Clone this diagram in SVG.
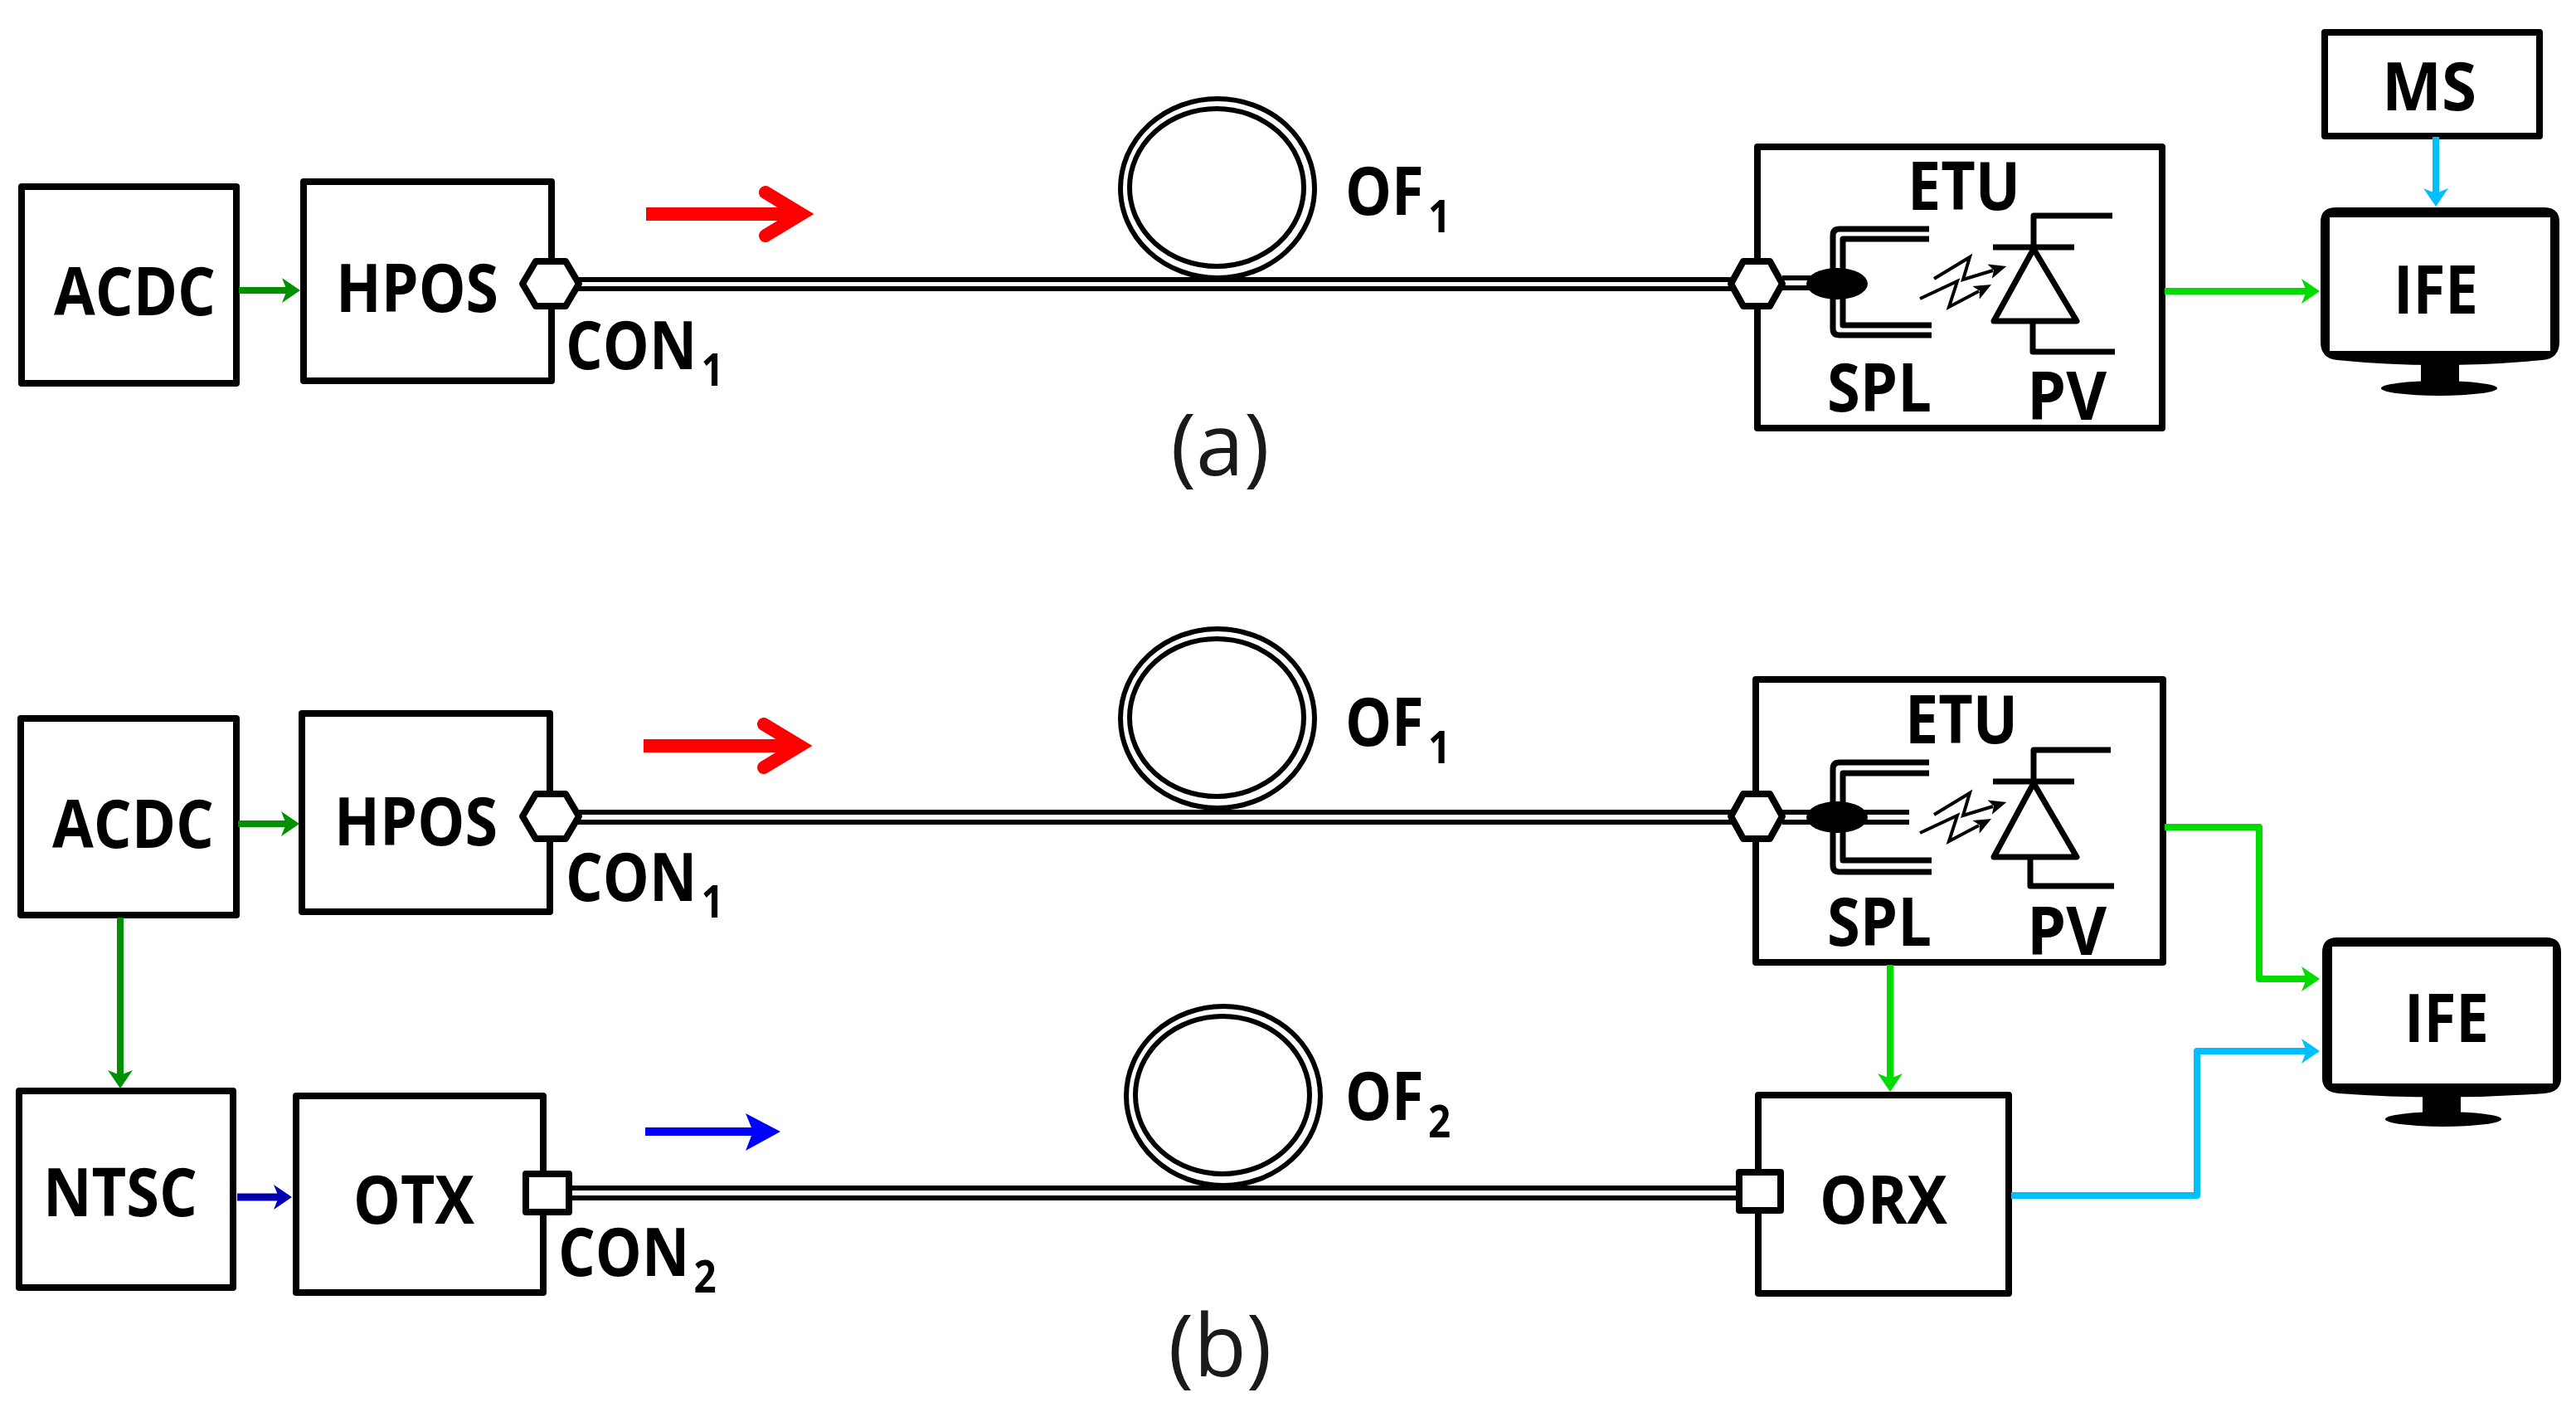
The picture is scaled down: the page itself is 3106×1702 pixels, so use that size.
<svg xmlns="http://www.w3.org/2000/svg" width="3106" height="1702" viewBox="0 0 3106 1702">
<style>
.box{fill:#fff;stroke:#000;stroke-width:8;stroke-linejoin:round}
.t{font-family:"Open Sans","Noto Sans","Liberation Sans",sans-serif;font-weight:700;font-size:80px;fill:#000}
.s{font-size:54px}
.cap{font-family:"Open Sans","Noto Sans","Liberation Sans",sans-serif;font-size:104px;fill:#1a1a1a}
.fib{fill:none;stroke:#000;stroke-width:6}
.ring{fill:none;stroke:#000;stroke-width:6}
.sym{fill:none;stroke:#000;stroke-width:7;stroke-linejoin:round}
.zig{fill:none;stroke:#000;stroke-width:4;marker-end:url(#mk)}
.dg{fill:none;stroke:#009000;stroke-width:8;marker-end:url(#mdg)}
.ng{fill:none;stroke:#00dc00;stroke-width:8;stroke-linejoin:round;marker-end:url(#mng)}
.cy{fill:none;stroke:#00bfff;stroke-width:8;stroke-linejoin:round;marker-end:url(#mcy)}
.nb{fill:none;stroke:#0000b0;stroke-width:9;marker-end:url(#mnb)}
.mon{fill:#000}
</style>
<defs>
<marker id="mdg" markerUnits="userSpaceOnUse" markerWidth="26" markerHeight="34" refX="8" refY="17" orient="auto"><path d="M2,2L24,17L2,32L8,17z" fill="#009000"/></marker>
<marker id="mng" markerUnits="userSpaceOnUse" markerWidth="26" markerHeight="34" refX="8" refY="17" orient="auto"><path d="M2,2L24,17L2,32L8,17z" fill="#00dc00"/></marker>
<marker id="mcy" markerUnits="userSpaceOnUse" markerWidth="26" markerHeight="34" refX="8" refY="17" orient="auto"><path d="M2,2L24,17L2,32L8,17z" fill="#00bfff"/></marker>
<marker id="mnb" markerUnits="userSpaceOnUse" markerWidth="26" markerHeight="34" refX="8" refY="17" orient="auto"><path d="M2,2L24,17L2,32L8,17z" fill="#0000b0"/></marker>
<marker id="mk" markerUnits="userSpaceOnUse" markerWidth="22" markerHeight="20" refX="4" refY="10" orient="auto"><path d="M0,1L21,10L0,19L5,10z" fill="#000"/></marker>
</defs>
<rect width="3106" height="1702" fill="#fff"/>

<g id="acdc-a"><rect class="box" x="26" y="225" width="259" height="237"/><text class="t" x="65" y="380" textLength="195" lengthAdjust="spacingAndGlyphs">ACDC</text></g>
<g id="hpos-a"><rect class="box" x="366" y="219" width="299" height="240"/><text class="t" x="405" y="376" textLength="196" lengthAdjust="spacingAndGlyphs">HPOS</text></g>
<g id="etu-a"><rect class="box" x="2119" y="177" width="488" height="339"/>
<text class="t" x="2300" y="253" textLength="136" lengthAdjust="spacingAndGlyphs">ETU</text>
<text class="t" x="2203" y="496" textLength="126" lengthAdjust="spacingAndGlyphs">SPL</text>
<text class="t" x="2444" y="506" textLength="96" lengthAdjust="spacingAndGlyphs">PV</text>
<path class="fib" d="M2149,335H2190M2149,347H2190"/>
<path class="sym" d="M2326,276H2218Q2210,276 2210,284V396Q2210,404 2218,404H2329M2326,288H2222V392H2329"/>
<ellipse cx="2215" cy="342" rx="37" ry="19" fill="#000"/>
<path class="sym" d="M2547,260H2452V298M2403,298H2501"/><path class="sym" d="M2452,300L2504,387H2404Z"/><path class="sym" d="M2451,387V424H2550"/>
<path class="zig" d="M2332,336L2375,310L2367,337L2403,326"/><path class="zig" d="M2315,360L2360,339L2350,370L2386,351"/>
</g>
<g id="ms"><rect class="box" x="2803" y="39" width="259" height="125"/><text class="t" x="2872" y="133" textLength="114" lengthAdjust="spacingAndGlyphs">MS</text></g>
<g id="ife-a"><path class="mon" fill-rule="evenodd" d="M2816,250H3068Q3086,250 3086,268V412Q3086,432 3066,434Q2937,446 2818,434Q2798,432 2798,412V268Q2798,250 2816,250ZM2809,262V423H3075V262Z"/><rect class="mon" x="2919" y="438" width="46" height="26"/><ellipse class="mon" cx="2941" cy="468" rx="70" ry="9"/><text class="t" x="2886" y="378" textLength="102" lengthAdjust="spacingAndGlyphs">IFE</text></g>
<g id="of1-a"><ellipse class="ring" cx="1468" cy="227" rx="117" ry="108"/><ellipse class="ring" cx="1467" cy="226" rx="105" ry="95"/><text class="t" transform="translate(1622,259) scale(.88,1)">OF<tspan class="s" dx="6" dy="21">1</tspan></text></g>
<g id="con1-label-a"><text class="t" transform="translate(682,445) scale(.88,1)">CON<tspan class="s" dx="6" dy="20">1</tspan></text></g>

<g id="acdc-b"><rect class="box" x="25" y="866" width="260" height="237"/><text class="t" x="63" y="1022" textLength="195" lengthAdjust="spacingAndGlyphs">ACDC</text></g>
<g id="hpos-b"><rect class="box" x="364" y="860" width="299" height="239"/><text class="t" x="403" y="1019" textLength="197" lengthAdjust="spacingAndGlyphs">HPOS</text></g>
<g id="etu-b"><rect class="box" x="2117" y="819" width="491" height="341"/>
<text class="t" x="2297" y="896" textLength="136" lengthAdjust="spacingAndGlyphs">ETU</text>
<text class="t" x="2203" y="1140" textLength="126" lengthAdjust="spacingAndGlyphs">SPL</text>
<text class="t" x="2444" y="1151" textLength="96" lengthAdjust="spacingAndGlyphs">PV</text>
<path class="fib" d="M2149,979H2302M2149,991H2302"/>
<path class="sym" d="M2326,919H2218Q2210,919 2210,927V1043Q2210,1051 2218,1051H2329M2326,932H2222V1037H2329"/>
<ellipse cx="2215" cy="985" rx="37" ry="19" fill="#000"/>
<path class="sym" d="M2545,904H2452V942M2403,942H2501"/><path class="sym" d="M2452,944L2504,1033H2404Z"/><path class="sym" d="M2448,1033V1068H2549"/>
<path class="zig" d="M2332,982L2375,956L2367,983L2403,972"/><path class="zig" d="M2315,1004L2360,983L2350,1014L2386,995"/>
</g>
<g id="of1-b"><ellipse class="ring" cx="1468" cy="866" rx="117" ry="108"/><ellipse class="ring" cx="1467" cy="865" rx="105" ry="95"/><text class="t" transform="translate(1622,899) scale(.88,1)">OF<tspan class="s" dx="6" dy="21">1</tspan></text></g>
<g id="con1-label-b"><text class="t" transform="translate(682,1086) scale(.88,1)">CON<tspan class="s" dx="6" dy="20">1</tspan></text></g>
<g id="ntsc"><rect class="box" x="23" y="1315" width="258" height="237"/><text class="t" x="52" y="1466" textLength="186" lengthAdjust="spacingAndGlyphs">NTSC</text></g>
<g id="otx"><rect class="box" x="357" y="1321" width="298" height="237"/><text class="t" x="426" y="1475" textLength="146" lengthAdjust="spacingAndGlyphs">OTX</text></g>
<g id="orx"><rect class="box" x="2120" y="1320" width="302" height="239"/><text class="t" x="2194" y="1475" textLength="154" lengthAdjust="spacingAndGlyphs">ORX</text></g>
<g id="ife-b"><path class="mon" fill-rule="evenodd" d="M2818,1130H3070Q3088,1130 3088,1148V1300Q3088,1316 3068,1318Q2944,1327 2820,1318Q2800,1316 2800,1300V1148Q2800,1130 2818,1130ZM2812,1141V1306H3078V1141Z"/><rect class="mon" x="2921" y="1320" width="46" height="26"/><ellipse class="mon" cx="2946" cy="1349" rx="70" ry="9"/><text class="t" x="2899" y="1256" textLength="102" lengthAdjust="spacingAndGlyphs">IFE</text></g>
<g id="of2"><ellipse class="ring" cx="1475" cy="1321" rx="117" ry="108"/><ellipse class="ring" cx="1474" cy="1320" rx="105" ry="95"/><text class="t" transform="translate(1622,1350) scale(.88,1)">OF<tspan class="s" dx="6" dy="21">2</tspan></text></g>
<g id="con2-label"><text class="t" transform="translate(673,1538) scale(.88,1)">CON<tspan class="s" dx="6" dy="20">2</tspan></text></g>

<g id="connectors">
<path class="fib" d="M690,337H2095M690,348H2095"/>
<path class="fib" d="M690,979H2095M690,991H2095"/>
<path class="fib" d="M680,1432H2100M680,1444H2100"/>
<path class="dg" d="M288,350H346"/>
<path class="dg" d="M287,993H345"/>
<path class="dg" d="M145,1106V1296"/>
<path class="nb" d="M286,1443H336"/>
<path class="ng" d="M2610,351H2781"/>
<path class="cy" d="M2937,165V233"/>
<path class="ng" d="M2610,997H2724V1180H2781"/>
<path class="ng" d="M2279,1163V1300"/>
<path class="cy" d="M2425,1441H2649V1267H2781"/>
<path d="M779,258H962" fill="none" stroke="#ff0000" stroke-width="16"/>
<path d="M923,232L966,258L923,284" fill="none" stroke="#ff0000" stroke-width="16" stroke-linecap="round" stroke-linejoin="miter"/>
<path d="M776,899H960" fill="none" stroke="#ff0000" stroke-width="16"/>
<path d="M921,873L964,899L921,925" fill="none" stroke="#ff0000" stroke-width="16" stroke-linecap="round" stroke-linejoin="miter"/>
<path d="M778,1364H915" fill="none" stroke="#0000ff" stroke-width="10"/>
<path d="M899,1342L941,1364L899,1387L908,1364Z" fill="#0000ff"/>
</g>

<g id="con1-a-src"><path class="box" d="M646,315H682L698,342L682,369H646L630,342Z"/></g>
<g id="con1-a-dst"><path class="box" d="M2102,315H2134L2149,342L2134,369H2102L2087,342Z"/></g>
<g id="con1-b-src"><path class="box" d="M646,957H682L698,984L682,1011H646L630,984Z"/></g>
<g id="con1-b-dst"><path class="box" d="M2102,957H2134L2149,984L2134,1011H2102L2087,984Z"/></g>
<g id="con2-src"><rect class="box" x="634" y="1415" width="52" height="46"/></g>
<g id="con2-dst"><rect class="box" x="2097" y="1413" width="50" height="46"/></g>

<text class="cap" x="1471" y="573" text-anchor="middle">(a)</text>
<text class="cap" x="1471" y="1659" text-anchor="middle">(b)</text>
</svg>
